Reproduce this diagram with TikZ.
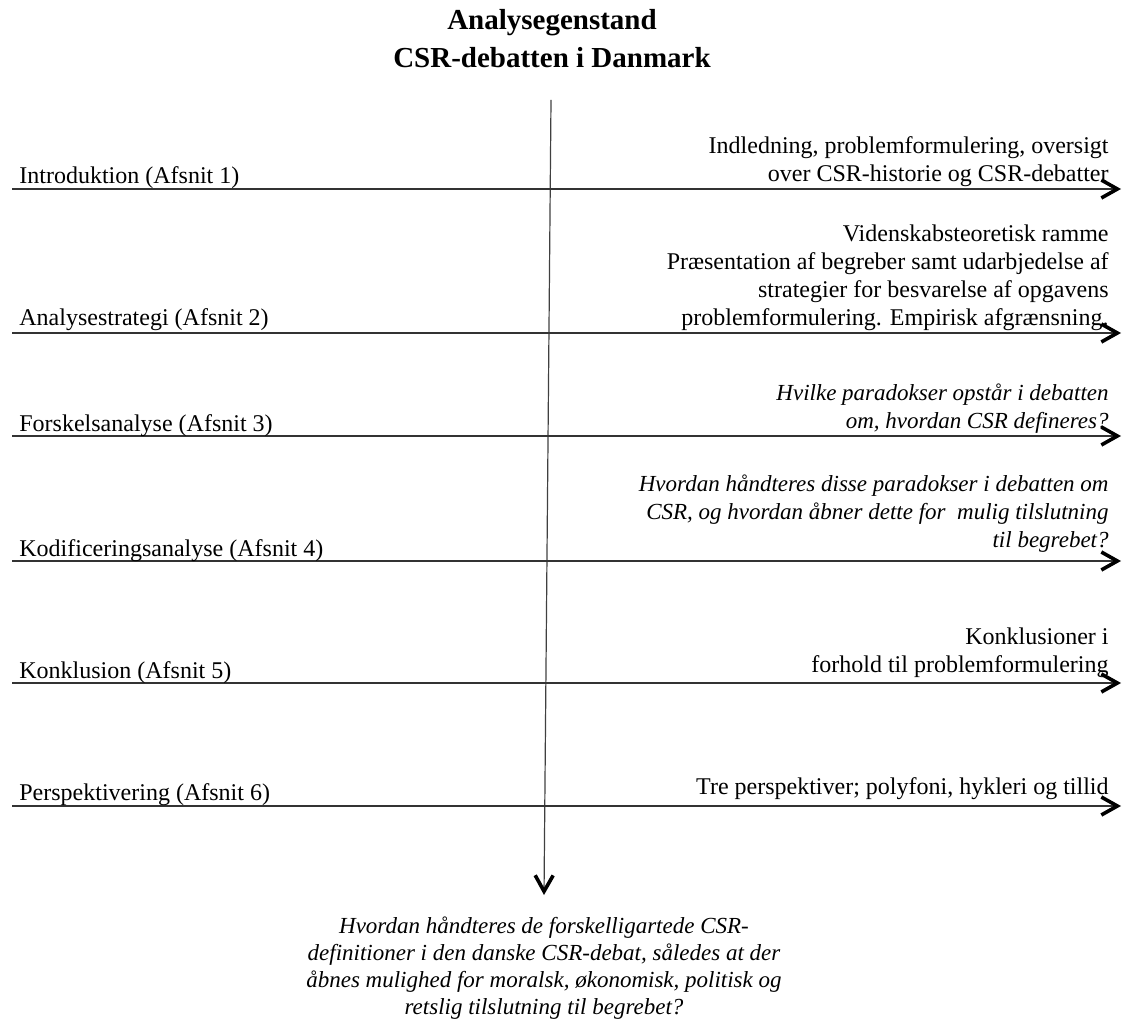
\documentclass[tikz,border=0pt]{standalone}
\usepackage{fontspec}
\setmainfont{Liberation Serif}
\usetikzlibrary{arrows.meta,positioning}

\begin{document}
\begin{tikzpicture}
	[x=0.5pt,y=-0.5pt,
	 titlelabel/.style={anchor=south,inner sep=0pt,align=center,text depth=0pt,
	   font=\fontsize{14.5}{19}\selectfont\bfseries},
	 leftlabel/.style={anchor=base west,inner sep=0pt,font=\fontsize{12}{14}\selectfont},
	 rightlabel/.style={anchor=south east,inner sep=0pt,align=right,text depth=0pt,
	   font=\fontsize{12}{14}\selectfont},
	 rightquest/.style={rightlabel,font=\fontsize{11.5}{14}\selectfont\itshape},
	 question/.style={anchor=north,inner sep=0pt,align=center,
	   font=\fontsize{11.5}{13.5}\selectfont\itshape},
	 hline/.style={line width=0.9pt,draw=black!80,
	   -{Straight Barb[length=8pt,width=9pt,line width=1.8pt,color=black]}},
	 vline/.style={line width=0.6pt,draw=black!75,
	   -{Straight Barb[length=8pt,width=9pt,line width=1.8pt,color=black]}}]
\useasboundingbox (0,0) rectangle (1123,1021);
% title
\node[titlelabel] (title) at (552,68) {Analysegenstand\\CSR-debatten i Danmark};
% main axis
\coordinate (top) at (551,100);
\coordinate (bot) at (544,895);
\draw[vline] (top) -- (bot);
% one arrow per section
\foreach \n/\y in {1/189,2/333,3/436,4/561,5/683,6/806}
\draw[hline] (12,\y) coordinate (s\n) -- (1121,\y) coordinate (e\n);
% section names
\node[leftlabel] (sec1) at (19,184) {Introduktion (Afsnit 1)};
\node[leftlabel] (sec2) at (19,326) {Analysestrategi (Afsnit 2)};
\node[leftlabel] (sec3) at (19,431) {Forskelsanalyse (Afsnit 3)};
\node[leftlabel] (sec4) at (19,556) {Kodificeringsanalyse (Afsnit 4)};
\node[leftlabel] (sec5) at (19,678) {Konklusion (Afsnit 5)};
\node[leftlabel] (sec6) at (19,800) {Perspektivering (Afsnit 6)};
% contents
\node[rightlabel] (txt1) at (1109,182) {Indledning, problemformulering, oversigt\\
  over CSR-historie og CSR-debatter};
\node[rightlabel] (txt2) at (1109,326) {Videnskabsteoretisk ramme\\
  Præsentation af begreber samt udarbjedelse af\\
  strategier for besvarelse af opgavens\\
  problemformulering. Empirisk afgrænsning.};
\node[rightquest] (txt3) at (1109,429) {Hvilke paradokser opstår i debatten\\
  om, hvordan CSR defineres?};
\node[rightquest] (txt4) at (1109,548) {Hvordan håndteres disse paradokser i debatten om\\
  CSR, og hvordan åbner dette for\ \ mulig tilslutning\\
  til begrebet?};
\node[rightlabel] (txt5) at (1109,673) {Konklusioner i\\
  forhold til problemformulering};
\node[rightlabel] (txt6) at (1109,795) {Tre perspektiver; polyfoni, hykleri og tillid};
% research question
\node[question,below=10.5pt of bot] (quest) {Hvordan håndteres de forskelligartede CSR-\\
  definitioner i den danske CSR-debat, således at der\\
  åbnes mulighed for moralsk, økonomisk, politisk og\\
  retslig tilslutning til begrebet?};
\end{tikzpicture}
\end{document}
